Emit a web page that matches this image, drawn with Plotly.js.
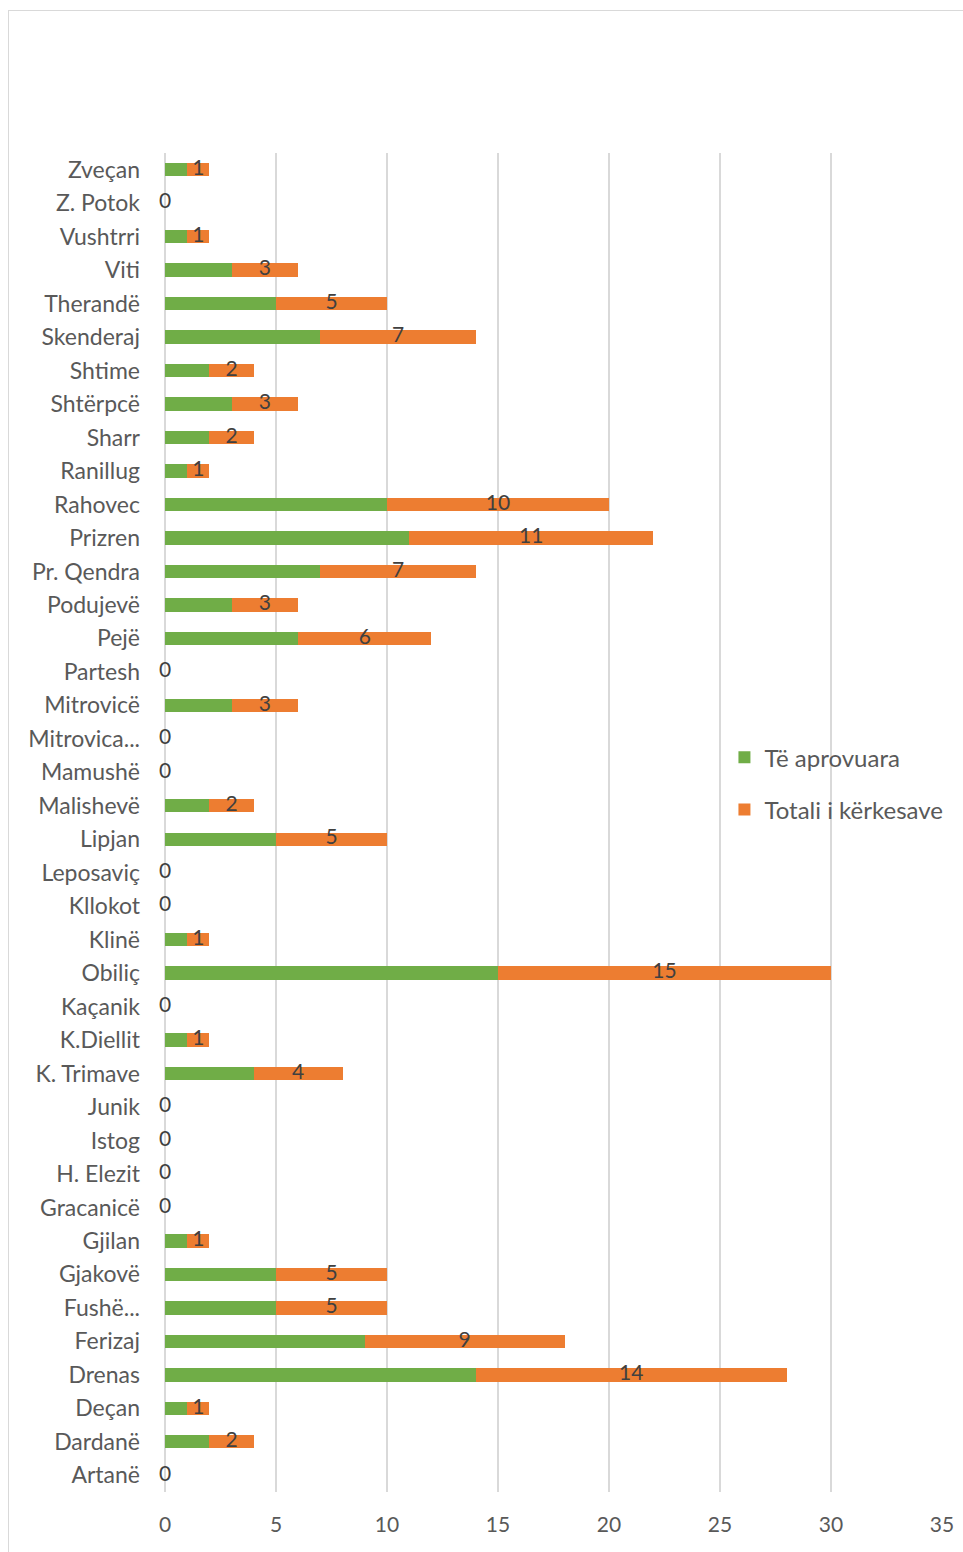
<!DOCTYPE html>
<html>
<head>
<meta charset="utf-8">
<script src="https://cdn.plot.ly/plotly-3.0.1.min.js"></script>
<style>
  body { margin: 0; background: #fff; }
  #wrap { position: relative; width: 963px; height: 1552px; overflow: hidden; }
  #frame { position: absolute; left: 8px; top: 10px; width: 1000px; height: 1600px; border: 1.5px solid #d9d9d9; box-sizing: border-box; pointer-events: none; }
  #chart { position: absolute; left: 0; top: 0; width: 963px; height: 1552px; }
</style>
</head>
<body>
<div id="wrap">
  <div id="chart"></div>
  <div id="frame"></div>
</div>
<script>
const categories = ["Zveçan","Z. Potok","Vushtrri","Viti","Therandë","Skenderaj","Shtime","Shtërpcë","Sharr","Ranillug","Rahovec","Prizren","Pr. Qendra","Podujevë","Pejë","Partesh","Mitrovicë","Mitrovica...","Mamushë","Malishevë","Lipjan","Leposaviç","Kllokot","Klinë","Obiliç","Kaçanik","K.Diellit","K. Trimave","Junik","Istog","H. Elezit","Gracanicë","Gjilan","Gjakovë","Fushë...","Ferizaj","Drenas","Deçan","Dardanë","Artanë"];
const aprovuara = [1,0,1,3,5,7,2,3,2,1,10,11,7,3,6,0,3,0,0,2,5,0,0,1,15,0,1,4,0,0,0,0,1,5,5,9,14,1,2,0];
const totali = [1,0,1,3,5,7,2,3,2,1,10,11,7,3,6,0,3,0,0,2,5,0,0,1,15,0,1,4,0,0,0,0,1,5,5,9,14,1,2,0];
const seriesNames = ["Të aprovuara","Totali i kërkesave"];
const xTicks = [0,5,10,15,20,25,30,35];

const font = "Lato, 'Open Sans', sans-serif";

const labelX = aprovuara.map((a,i) => a + totali[i]/2);

const data = [
  {type:"bar", orientation:"h", name:seriesNames[0], legendgroup:"a", y:categories, x:aprovuara,
   marker:{color:"#70AD47"}, width:0.4, hoverinfo:"x+y"},
  {type:"bar", orientation:"h", name:seriesNames[1], legendgroup:"b", y:categories, x:totali,
   marker:{color:"#ED7D31"}, width:0.4, hoverinfo:"x+y"},
  {type:"scatter", mode:"text", y:categories, x:labelX, text:totali.map(String),
   textposition:"middle center", textfont:{family:font, size:21, color:"#404040"},
   showlegend:false, hoverinfo:"skip", cliponaxis:false}
];

const layout = {
  width:963, height:1552,
  margin:{l:165, r:21, t:153, b:60},
  barmode:"stack",
  paper_bgcolor:"#ffffff", plot_bgcolor:"#ffffff",
  font:{family:font, size:21, color:"#595959"},
  xaxis:{range:[0,35], tickvals:xTicks, showgrid:true, gridcolor:"#d9d9d9", gridwidth:1.5,
         zeroline:true, zerolinecolor:"#d9d9d9", zerolinewidth:1.5, showline:false,
         ticks:"", tickfont:{family:font, size:21, color:"#595959"}, ticklabelstandoff:18, fixedrange:true},
  yaxis:{type:"category", categoryorder:"array", categoryarray:categories, range:[39.5,-0.5], autorange:false,
         showgrid:false, zeroline:false, showline:false, ticks:"",
         tickfont:{family:font, size:23, color:"#595959"}, ticklabelstandoff:24},
  legend:{x:0.72, y:0.529, xanchor:"left", yanchor:"middle", bgcolor:"rgba(0,0,0,0)",
          font:{family:font, size:24, color:"#595959"}, itemwidth:30, tracegroupgap:18,
          traceorder:"grouped"},
  bargap:0.6,
  showlegend:true
};

Plotly.newPlot("chart", data, layout, {displayModeBar:false, staticPlot:true});
</script>
</body>
</html>
